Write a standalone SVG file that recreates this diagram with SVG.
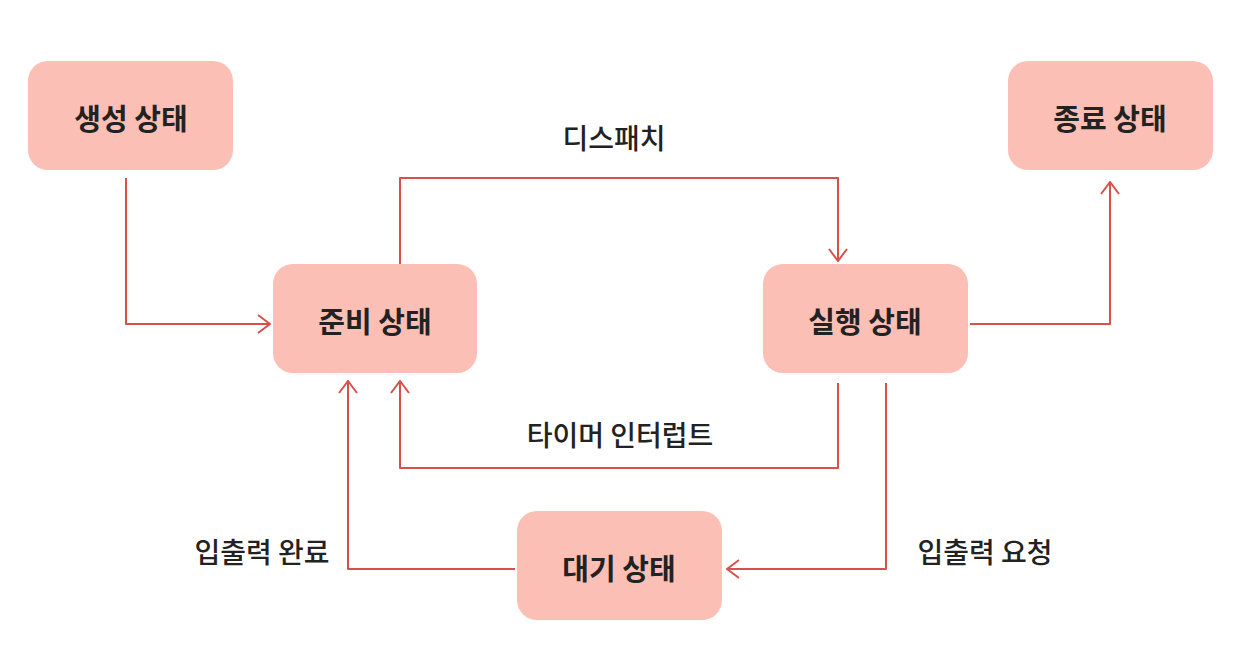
<svg xmlns="http://www.w3.org/2000/svg" width="1258" height="670" viewBox="0 0 1258 670">
<style>
.node rect{fill:#fcbfb5;}
.node text{font-family:"Noto Sans CJK KR","Noto Sans",sans-serif;font-weight:bold;font-size:29px;fill:#222;text-anchor:middle;dominant-baseline:central;}
.lbl{font-family:"Noto Sans CJK KR","Noto Sans",sans-serif;font-weight:500;font-size:28px;fill:#222;text-anchor:middle;dominant-baseline:central;}
.edge{fill:none;stroke:#d8504a;stroke-width:2;stroke-linejoin:round;}
</style>
<defs>
<marker id="arr" viewBox="0 0 14 20" refX="13" refY="10" markerWidth="14" markerHeight="20" markerUnits="userSpaceOnUse" orient="auto">
<path d="M1,1 L13,10 L1,19" fill="none" stroke="#d8504a" stroke-width="2"/>
</marker>
</defs>
<rect width="1258" height="670" fill="#fff"/>
<g id="connectors">
<path class="edge" d="M126,178 V324 H270" marker-end="url(#arr)"/>
<path class="edge" d="M400,264 V178 H838 V261" marker-end="url(#arr)"/>
<path class="edge" d="M970,324 H1110 V182" marker-end="url(#arr)"/>
<path class="edge" d="M838,383 V468 H400 V381" marker-end="url(#arr)"/>
<path class="edge" d="M886,383 V569 H727" marker-end="url(#arr)"/>
<path class="edge" d="M515,569 H348 V381" marker-end="url(#arr)"/>
</g>
<g id="labels">
<text class="lbl" x="614" y="137">디스패치</text>
<text class="lbl" x="620" y="434">타이머 인터럽트</text>
<text class="lbl" x="985" y="551">입출력 요청</text>
<text class="lbl" x="262" y="551">입출력 완료</text>
</g>
<g id="n-create" class="node"><rect x="28" y="61" width="205" height="109" rx="20"/><text x="131" y="117">생성 상태</text></g>
<g id="n-ready" class="node"><rect x="273" y="264" width="204" height="109" rx="20"/><text x="375" y="320">준비 상태</text></g>
<g id="n-run" class="node"><rect x="763" y="264" width="205" height="109" rx="20"/><text x="865" y="320">실행 상태</text></g>
<g id="n-term" class="node"><rect x="1008" y="61" width="205" height="109" rx="20"/><text x="1110" y="117">종료 상태</text></g>
<g id="n-wait" class="node"><rect x="517" y="511" width="205" height="109" rx="20"/><text x="619" y="567">대기 상태</text></g>
</svg>
